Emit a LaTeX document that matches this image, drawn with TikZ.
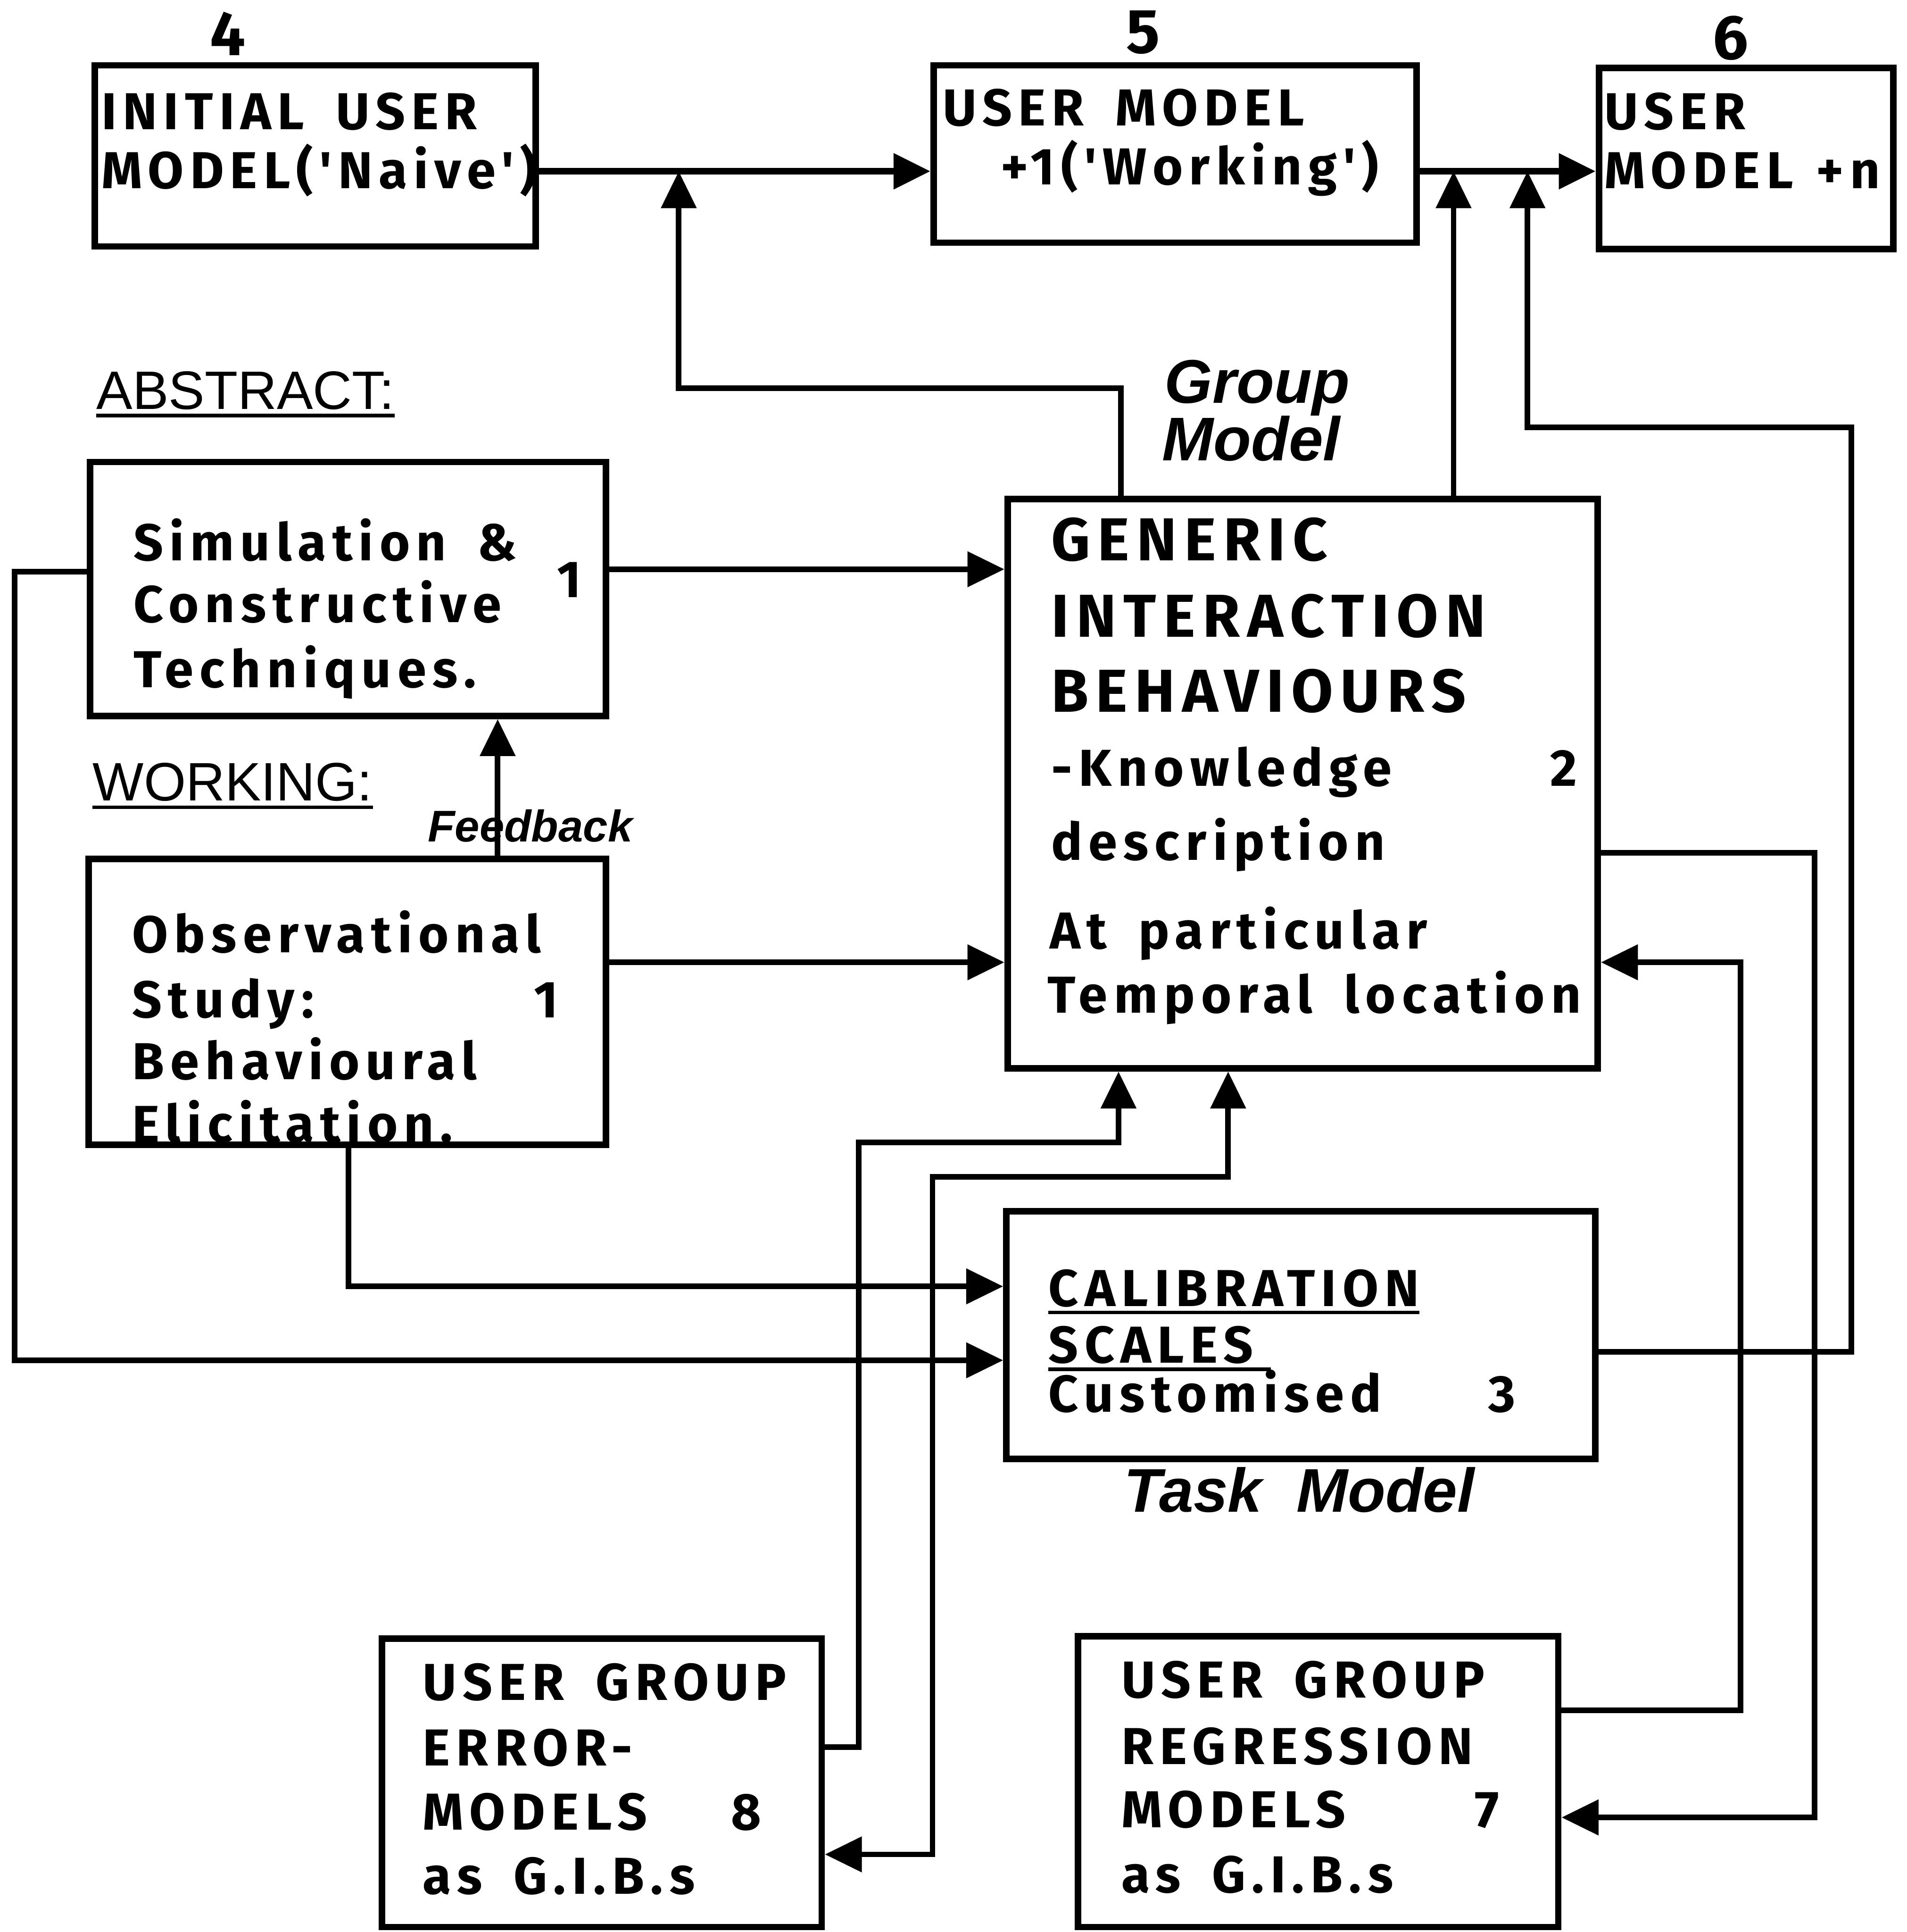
\documentclass[tikz,border=0pt]{standalone}
\usepackage{fontspec}
\usetikzlibrary{arrows.meta,fit}
\newfontfamily\bxf[LetterSpace=12,WordSpace=1.7]{Fira Sans}
\newfontfamily\hvf{Liberation Sans}
\tikzset{
 box/.style={draw, line width=3pt, inner sep=0pt},
 ln/.style={line width=2.6pt},
 tip/.tip={Triangle[length=0.6cm,width=0.56cm]},
 arr/.style={ln, -tip},
 darr/.style={ln, tip-tip},
 bt/.style={anchor=base west, inner sep=0pt, font=\bxf\bfseries\fontsize{24}{24}\selectfont},
 btl/.style={anchor=base west, inner sep=0pt, font=\bxf\bfseries\fontsize{28}{28}\selectfont},
 num/.style={anchor=base, inner sep=0pt, font=\bxf\bfseries\fontsize{29}{29}\selectfont},
 itl/.style={anchor=base west, inner sep=0pt, font=\hvf\bfseries\itshape\fontsize{28.5}{28.5}\selectfont},
 fbl/.style={anchor=base west, inner sep=0pt, font=\hvf\bfseries\itshape\fontsize{20.5}{20.5}\selectfont},
 hd/.style={anchor=base west, inner sep=0pt, font=\hvf\fontsize{25}{25}\selectfont},
 ul/.style={line width=1.6pt},
}
\begin{document}
\begin{tikzpicture}[x=0.02cm, y=-0.02cm]
\useasboundingbox (0,0) rectangle (1548,1568);
% boxes
\node[box, fit={(77,53) (435,200)}] (b4) {};
\node[box, fit={(758,53) (1150,197)}] (b5) {};
\node[box, fit={(1298,55) (1537,202)}] (b6) {};
\node[box, fit={(73,375) (492,581)}] (sim) {};
\node[box, fit={(72,697) (492,929)}] (obs) {};
\node[box, fit={(818,405) (1297,867)}] (gen) {};
\node[box, fit={(817,983) (1295,1184)}] (cal) {};
\node[box, fit={(310,1330) (667,1564)}] (b8) {};
\node[box, fit={(875,1328) (1265,1564)}] (b7) {};
% numbers
\node[num] (n4) at (185,45) {4};
\node[num] (n5) at (928,43) {5};
\node[num] (n6) at (1405,48) {6};
% box texts
\node[bt] (t4a) at (82,105) {INITIAL USER};
\node[bt] (t4b) at (82,153) {MODEL('Naive')};
\node[bt] (t5a) at (765,102) {USER MODEL};
\node[bt] (t5b) at (812,150) {+1('Working')};
\node[bt] (t6a) at (1302,105) {USER};
\node[bt] (t6b) at (1302,153) {MODEL};
\node[bt] (t6c) at (1474,153) {+n};
\node[bt] (s1) at (108,455) {Simulation \&};
\node[bt] (s2) at (108,505) {Constructive};
\node[bt] (s3) at (108,558) {Techniques.};
\node[bt] (s4) at (452,485) {1};
\node[bt] (o1) at (107,773) {Observational};
\node[bt] (o2) at (107,826) {Study:};
\node[bt] (o3) at (433,826) {1};
\node[bt] (o4) at (107,876) {Behavioural};
\node[bt] (o5) at (107,927) {Elicitation.};
\node[btl] (g1) at (853,455) {GENERIC};
\node[btl] (g2) at (853,517) {INTERACTION};
\node[btl] (g3) at (853,578) {BEHAVIOURS};
\node[bt] (g4) at (853,638) {-Knowledge};
\node[bt] (g5) at (1258,638) {2};
\node[bt] (g6) at (853,698) {description};
\node[bt] (g7) at (852,770) {At particular};
\node[bt] (g8) at (850,822) {Temporal location};
\node[bt] (c1) at (851,1060) {CALIBRATION};
\node[bt] (c2) at (851,1106) {SCALES};
\node[bt] (c3) at (851,1146) {Customised};
\node[bt] (c4) at (1208,1146) {3};
\node[bt] (e1t) at (343,1380) {USER GROUP};
\node[bt] (e2t) at (343,1433) {ERROR-};
\node[bt] (e3t) at (343,1485) {MODELS};
\node[bt] (e4t) at (593,1485) {8};
\node[bt] (e5t) at (343,1537) {as G.I.B.s};
\node[bt] (r1t) at (910,1378) {USER GROUP};
\node[bt] (r2t) at (910,1432) {REGRESSION};
\node[bt] (r3t) at (910,1483) {MODELS};
\node[bt] (r4t) at (1197,1483) {7};
\node[bt] (r5t) at (910,1536) {as G.I.B.s};
% labels
\node[hd] (abs) at (78,332) {ABSTRACT:};
\node[hd] (wrk) at (75,650) {WORKING:};
\node[itl] (gm1) at (945,327) {Group};
\node[itl] (gm2) at (943,374) {Model};
\node[itl] (tm) at (912,1227) {Task\ \ Model};
\node[fbl] (fb) at (347,683) {Feedback};
% underlines
\draw[ul] ([yshift=-3pt]abs.base west) -- ([yshift=-3pt]abs.base east);
\draw[ul] ([yshift=-3pt]wrk.base west) -- ([yshift=-3pt]wrk.base east);
\draw[ul] ([yshift=-3pt]c1.base west) -- ([yshift=-3pt]c1.base east);
\draw[ul] ([yshift=-3pt]c2.base west) -- ([yshift=-3pt,xshift=8pt]c2.base east);
% connector coordinates
\coordinate (j1) at (551,139);
\coordinate (j2) at (1180,139);
\coordinate (j3) at (1240,139);
\coordinate (k1) at (910,315);
\coordinate (k3) at (1503,347);
\coordinate (k4) at (1503,1097);
\coordinate (m1) at (600,462);
\coordinate (m2) at (600,781);
\coordinate (l1) at (12,464);
\coordinate (l2) at (600,1104);
\coordinate (f1) at (404,640);
\coordinate (q1) at (283,1000);
\coordinate (q2) at (600,1044);
\coordinate (e1) at (697,1418);
\coordinate (e2) at (908,927);
\coordinate (e4) at (997,955);
\coordinate (e5) at (757,1505);
\coordinate (r1) at (1473,692);
\coordinate (r2) at (1473,1475);
\coordinate (r3) at (1413,1388);
\coordinate (r4) at (1413,781);
% connectors
\draw[arr, line width=3.2pt] (b4.east |- j1) -- (b5.west |- j1);
\draw[arr, line width=3.2pt] (b5.east |- j1) -- (b6.west |- j1);
\draw[arr] (gen.north -| k1) -- (k1) -| (j1);
\draw[arr] (gen.north -| j2) -- (j2);
\draw[arr] (cal.east |- k4) -- (k4) -- (k3) -| (j3);
\draw[arr] (sim.east |- m1) -- (gen.west |- m1);
\draw[arr] (sim.west |- l1) -- (l1) |- (cal.west |- l2);
\draw[arr] (obs.north -| f1) -- (sim.south -| f1);
\draw[arr] (obs.east |- m2) -- (gen.west |- m2);
\draw[arr] (obs.south -| q1) |- (cal.west |- q2);
\draw[arr] (b8.east |- e1) -- (e1) |- (e2) -- (gen.south -| e2);
\draw[darr] (gen.south -| e4) -- (e4) -| (e5) -- (b8.east |- e5);
\draw[arr] (gen.east |- r1) -- (r1) -- (r2) -- (b7.east |- r2);
\draw[arr] (b7.east |- r3) -- (r3) -- (r4) -- (gen.east |- r4);
\end{tikzpicture}
\end{document}
